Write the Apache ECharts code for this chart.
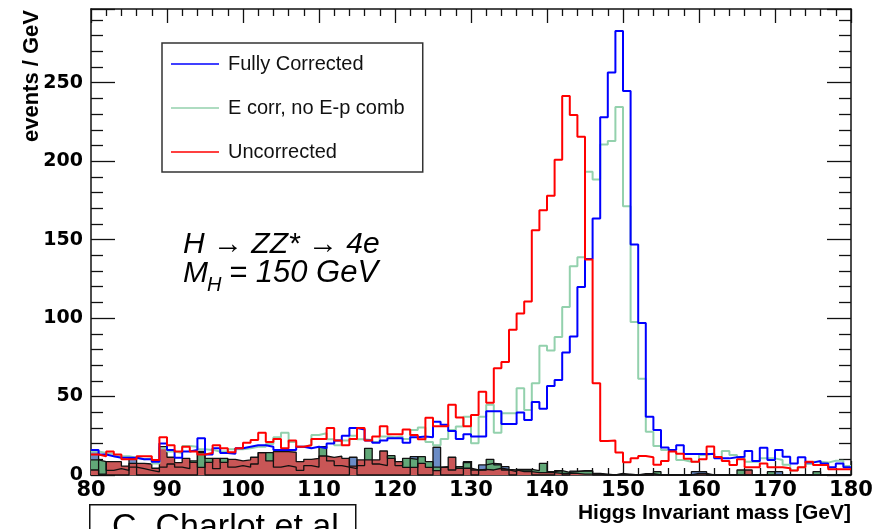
<!DOCTYPE html>
<html>
<head>
<meta charset="utf-8">
<script src="https://cdn.jsdelivr.net/npm/echarts@6/dist/echarts.min.js"></script>
<style>
html,body{margin:0;padding:0;background:#fff;}
#chart{width:879px;height:529px;}
</style>
</head>
<body>
<div id="chart"></div>
<script>
// Histogram: 1 GeV bins from 80 to 180 GeV
const binLow = 80;
const binCount = 100;

const xTickLabels = ['80','90','100','110','120','130','140','150','160','170','180'];
const yTickLabels = ['0','50','100','150','200','250'];

const seriesNames = ['Fully Corrected', 'E corr, no E-p comb', 'Uncorrected'];

// events / GeV per bin (line histograms)
const fullyCorrected = [
 16,13,12,11,11,11,10,10,8.5,20,
 16,11,15,16,23.5,13,17,14,13.5,17,
 18,19,19,18,16,16,16,18,17,18,
 17,20,22,25,30,29,22,20.6,22,23.4,
 23.4,20.6,24,24.5,24,34,32,28,23,26,
 24.5,24.5,40.6,40.6,32.5,32.5,39.8,35.1,46.6,42.3,
 56.8,60.6,78,88.3,119.8,137.7,163.5,228,256.5,283,
 244.8,146.9,96.8,37.2,28.7,17.5,16,19,13.4,13.4,
 13.4,13.4,10.6,10.6,11.3,11.7,15.3,9,17.4,9.6,
 16,11.7,7.4,11.3,7.9,9,7.4,4.9,7.4,4.9
];
const eCorrNoComb = [
 15,14,13.5,12,12,11,10,10.5,7.4,17,
 15,14,18.5,18,16.4,16,15,15,16.4,16.4,
 17,18,18,19.8,24,27,21,18,19,25.5,
 26.6,22.8,19,22,25,22.8,22.3,21,24.5,24,
 24.5,23,28.7,30.2,21,19,23,28.7,30.9,37.2,
 20.2,37.2,44.7,27,39.4,39.4,55.3,41.5,58.5,82.3,
 79.4,87.9,107,133,138.8,193.3,188.4,210.7,212.8,234.5,
 171.3,97.5,61.3,27.5,18.5,16,14.9,9.6,8.5,8.5,
 12.8,13.8,11,15.3,12.8,11.3,8.5,8.5,10.6,10.6,
 9.6,6.5,2.8,4.9,7,8.5,7.9,9.1,9.1,5.7
];
const uncorrected = [
 13,12,15,13,10,10,12,12,9.6,24,
 19,15,18,15,13,14,19,17,14.5,17,
 20.6,22.3,27,21,23,17,22,18,19,23,
 23,30,22,19,23,30,22,24.5,31,26,
 26,29,25.5,22.8,36.5,31,31,44.7,36.7,31,
 38.3,53,46,68,72,92.5,103,110.6,156,168.8,
 178,201,241.6,229.5,215.6,137.3,58.5,21.7,22,14.4,
 8.2,10.6,12.1,11.3,6.5,9,15,13.6,10.4,8.5,
 10,18.2,11.5,9,6.4,10,4.9,4.9,7.4,4.9,
 4.9,4.3,2.8,4.9,8.5,6.4,6.4,3.6,3.6,3.6
];

// filled (background) histograms
const blueFill = [
 15,0,0,0,0,10.6,0,0,0,0,
 0,0,0,0,15,0,0,0,0,0,
 0,0,0,0,0,0,0,0,0,0,
 0,0,0,0,11.3,0,0,0,0,0,
 0,0,11.7,0,0,17.7,0,0,0,8.5,
 0,6.4,7.4,7,5.3,0,3.2,3.2,0,0,
 0,2.8,0,2.5,2.5,2.5,0,0,0,1,
 0,0,0,0,0,0,0,0,0,2.1,
 2.1,0,0,0,0,0,0,0,0,0,
 2.1,0,0,0,0,0,0,0,0,0
];
const greenFill = [
 9.6,8.5,3,4,3,5,4,3,2,5,
 7,5,4,9,14.3,10.6,4,10.6,5,6,
 5,7,14.3,14.3,5,6,5,3,6,5,
 18,9,6,5,4,6,17,7,6,12.3,
 6,10.6,10,11.7,8.5,5,5.3,3.2,5.3,7.9,
 3.2,3.2,10,6.4,3.2,2.1,3.6,3.6,2.8,7.4,
 2.1,2.8,1.7,2.1,2.8,2.8,1,0.5,0,0.5,
 0.5,0,0,0,2.1,0,0,0,0,0,
 0,0,0,0,0,3.2,0,0,0,2.1,
 0,0,0,0,0,2.1,0,0,0,0
];
const redFill = [
 3.2,0.5,8.5,8.5,5.7,7.4,7.4,7,4.3,18,
 11.3,7.9,10.6,8,4.9,8,10.6,8,10,9,
 9.6,11.3,14.3,9,14.9,14.9,14.5,8.5,10,10.6,
 12.1,11.3,12,10.6,5.7,9.6,9.6,9.6,15.3,10.6,
 8.5,4.9,4.9,7.4,4.9,2.8,4.9,11.3,4.3,4.3,
 3.2,3.6,3.2,4.3,3.6,3.2,2.1,2.1,1.5,1.5,
 1.5,1,1,1,0.5,0.5,0.5,0,0,0,
 0,0,0.8,0.8,0,0,0,0,0,1,
 1,0,0,0,0,0,3.2,0,0,0,
 0,0,0,0,0,0,0,0,0,0
];

function stepData(vals) {
  const d = vals.map((v, i) => [binLow + i, v]);
  d.push([binLow + binCount, vals[vals.length - 1]]);
  return d;
}

const chart = echarts.init(document.getElementById('chart'), null, {renderer: 'canvas'});

const axisCommonX = {
  type: 'value', min: 80, max: 180, interval: 10,
  axisLine: {show: true, onZero: false, lineStyle: {color: '#111', width: 1.5}},
  axisTick: {show: true, inside: true, length: 14, lineStyle: {color: '#111', width: 1.3}},
  minorTick: {show: true, splitNumber: 5, length: 7, lineStyle: {color: '#111', width: 1.3}},
  splitLine: {show: false}
};
const axisCommonY = {
  type: 'value', min: 0, max: 297, interval: 50,
  axisLine: {show: true, onZero: false, lineStyle: {color: '#111', width: 1.5}},
  axisTick: {show: true, inside: true, length: 24, lineStyle: {color: '#111', width: 1.3}},
  minorTick: {show: true, splitNumber: 5, length: 12, lineStyle: {color: '#111', width: 1.3}},
  splitLine: {show: false}
};

const option = {
  animation: false,
  backgroundColor: '#ffffff',
  grid: {left: 91, right: 28, top: 9, bottom: 54, containLabel: false, outerBoundsMode: 'none'},
  xAxis: [
    Object.assign({}, axisCommonX, {
      position: 'bottom',
      axisLabel: {
        show: true, margin: 5, color: '#000',
        fontFamily: 'DejaVu Sans', fontWeight: 'bold', fontSize: 21,
        formatter: v => xTickLabels[Math.round((v - 80) / 10)] ?? ''
      },
      name: 'Higgs Invariant mass [GeV]',
      nameLocation: 'end', nameGap: 0, nameMoveOverlap: false,
      nameTextStyle: {
        fontFamily: 'Liberation Sans', fontWeight: 'bold', fontSize: 21, color: '#000',
        align: 'right', verticalAlign: 'top', padding: [28, 0, 0, 0]
      }
    }),
    Object.assign({}, axisCommonX, {position: 'top', axisLabel: {show: false}})
  ],
  yAxis: [
    Object.assign({}, axisCommonY, {
      position: 'left',
      axisLabel: {
        show: true, margin: 8, color: '#000', showMaxLabel: false,
        fontFamily: 'DejaVu Sans', fontWeight: 'bold', fontSize: 19,
        formatter: v => (v % 50 === 0 && v <= 250) ? yTickLabels[v / 50] : ''
      },
      name: 'events / GeV',
      nameLocation: 'end', nameGap: -1, nameRotate: 90, nameMoveOverlap: false,
      nameTextStyle: {
        fontFamily: 'Liberation Sans', fontWeight: 'bold', fontSize: 22, color: '#000',
        align: 'right', verticalAlign: 'bottom', padding: [0, 0, 48, 0]
      }
    }),
    Object.assign({}, axisCommonY, {position: 'right', axisLabel: {show: false}})
  ],
  legend: {
    data: seriesNames,
    orient: 'vertical',
    left: 162, top: 43,
    icon: 'rect', itemWidth: 48, itemHeight: 1.5,
    itemGap: 24,
    padding: [11, 18, 10, 9],
    borderColor: '#333', borderWidth: 1.5,
    backgroundColor: '#fff',
    selectedMode: false,
    textStyle: {fontFamily: 'Liberation Sans', fontSize: 20, color: '#111', lineHeight: 18, padding: [0, 0, 0, 4]}
  },
  graphic: [
    {type: 'text', left: 183, top: 230, style: {text: 'H \u2192 ZZ* \u2192 4e', font: 'italic 30px "Liberation Sans"', fill: '#000'}},
    {type: 'text', left: 183, top: 259, style: {text: 'M', font: 'italic 30px "Liberation Sans"', fill: '#000'}},
    {type: 'text', left: 207, top: 275, style: {text: 'H', font: 'italic 20px "Liberation Sans"', fill: '#000'}},
    {type: 'text', left: 229, top: 258, style: {text: '= 150 GeV', font: 'italic 31px "Liberation Sans"', fill: '#000'}},
    {type: 'rect', left: 89, top: 504, shape: {width: 266, height: 40}, style: {fill: '#fff', stroke: '#111', lineWidth: 1.5}},
    {type: 'text', left: 112, top: 511, style: {text: 'C. Charlot et al', font: '34px "Liberation Sans"', fill: '#000'}}
  ],
  series: [
    {name: 'blue fill', type: 'line', step: 'end', data: stepData(blueFill), symbol: 'none',
     lineStyle: {color: '#111', width: 1.3}, areaStyle: {color: '#6b8cc6', opacity: 1}, z: 2},
    {name: 'green fill', type: 'line', step: 'end', data: stepData(greenFill), symbol: 'none',
     lineStyle: {color: '#111', width: 1.3}, areaStyle: {color: '#62a878', opacity: 1}, z: 2},
    {name: 'red fill', type: 'line', step: 'end', data: stepData(redFill), symbol: 'none',
     lineStyle: {color: '#111', width: 1.3}, areaStyle: {color: '#c95656', opacity: 1}, z: 2},
    {name: seriesNames[1], type: 'line', step: 'end', data: stepData(eCorrNoComb), symbol: 'none',
     color: '#93d1ad', lineStyle: {color: '#93d1ad', width: 2}, z: 3},
    {name: seriesNames[0], type: 'line', step: 'end', data: stepData(fullyCorrected), symbol: 'none',
     color: '#0000ff', lineStyle: {color: '#0000ff', width: 2}, z: 3},
    {name: seriesNames[2], type: 'line', step: 'end', data: stepData(uncorrected), symbol: 'none',
     color: '#ff0000', lineStyle: {color: '#ff0000', width: 2}, z: 3}
  ]
};
chart.setOption(option);
</script>
</body>
</html>
